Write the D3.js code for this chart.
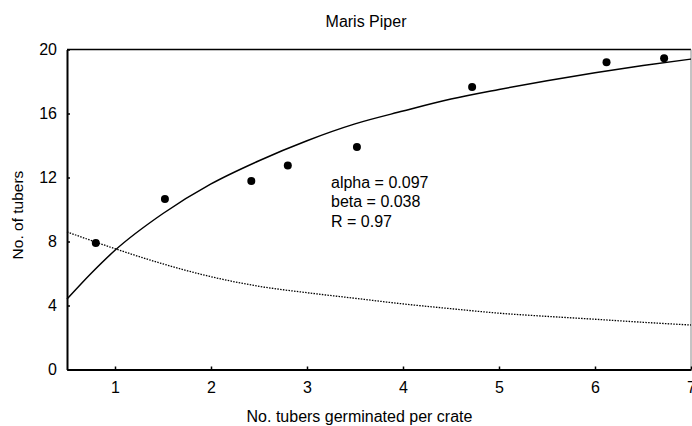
<!DOCTYPE html>
<html>
<head>
<meta charset="utf-8">
<script src="https://cdn.jsdelivr.net/npm/d3@7"></script>
<style>
  body { margin: 0; background: #fff; }
  text { font-family: "Liberation Sans", Arial, sans-serif; fill: #000; }
</style>
</head>
<body>
<div id="graph"></div>
<script>
// observed points
var germX = [0.8, 1.52, 2.42, 2.8, 3.52, 4.72, 6.12, 6.72];
var tubersY = [7.9, 10.65, 11.78, 12.75, 13.9, 17.65, 19.2, 19.45];

// fitted curve (solid)
var fitX = [0.5, 0.75, 1.0, 1.5, 2.0, 2.5, 3.0, 3.5, 4.0, 4.5, 5.0, 5.5, 6.0, 6.5, 7.0];
var fitY = [4.4, 6.0, 7.45, 9.75, 11.6, 13.05, 14.3, 15.35, 16.15, 16.9, 17.5, 18.05, 18.55, 19.0, 19.4];

// dotted curve
var dotX = [0.5, 1.0, 1.5, 2.0, 2.5, 3.0, 3.5, 4.0, 4.5, 5.0, 5.5, 6.0, 6.5, 7.0];
var dotY = [8.6, 7.55, 6.6, 5.8, 5.2, 4.8, 4.45, 4.1, 3.8, 3.52, 3.32, 3.14, 2.95, 2.78];

var xTicks = [1, 2, 3, 4, 5, 6, 7];
var yTicks = [0, 4, 8, 12, 16, 20];
var notes = ["alpha = 0.097", "beta = 0.038", "R = 0.97"];

var w = 692, h = 426;
var padL = 67, padR = 691, padT = 49.5, padB = 369.5;

var xScale = d3.scaleLinear().domain([0.5, 7]).range([padL, padR]);
var yScale = d3.scaleLinear().domain([0, 20]).range([padB, padT]);

var svg = d3.select("#graph")
	.append("svg")
	.attr("width", w)
	.attr("height", h);

// frame top + right
svg.append("line")
	.attr("x1", padL).attr("x2", padR)
	.attr("y1", padT).attr("y2", padT)
	.attr("stroke", "#000").attr("stroke-width", 1.5);
svg.append("line")
	.attr("x1", padR).attr("x2", padR)
	.attr("y1", padT).attr("y2", padB)
	.attr("stroke", "#888").attr("stroke-width", 1);

// axes
var xAxis = svg.append("g")
	.attr("transform", "translate(0," + padB + ")")
	.call(d3.axisBottom(xScale).tickValues(xTicks).tickFormat(d3.format("d"))
		.tickSizeInner(-3).tickSizeOuter(0).tickPadding(8));
var yAxis = svg.append("g")
	.attr("transform", "translate(" + padL + ",0)")
	.call(d3.axisLeft(yScale).tickValues(yTicks).tickFormat(d3.format("d"))
		.tickSizeInner(-3).tickSizeOuter(0).tickPadding(10));

[xAxis, yAxis].forEach(function (ax) {
	ax.select(".domain").attr("stroke", "#000").attr("stroke-width", 2);
	ax.selectAll(".tick line").attr("stroke", "#000").attr("stroke-width", 1.5);
	ax.selectAll(".tick text")
		.style("font-family", "'Liberation Sans', Arial, sans-serif")
		.style("font-size", "16px")
		.attr("fill", "#000");
});
xAxis.selectAll(".tick text").attr("dy", "0.95em");

// curves
var line = d3.line()
	.x(function (d) { return xScale(d[0]); })
	.y(function (d) { return yScale(d[1]); })
	.curve(d3.curveMonotoneX);

svg.append("path")
	.datum(d3.zip(dotX, dotY))
	.attr("d", line)
	.attr("fill", "none")
	.attr("stroke", "#000")
	.attr("stroke-width", 1.3)
	.attr("stroke-dasharray", "1.5,1.3");

svg.append("path")
	.datum(d3.zip(fitX, fitY))
	.attr("d", line)
	.attr("fill", "none")
	.attr("stroke", "#000")
	.attr("stroke-width", 1.5);

// points
svg.append("g")
	.selectAll("circle")
	.data(d3.zip(germX, tubersY))
	.enter()
	.append("circle")
	.attr("cx", function (d) { return xScale(d[0]); })
	.attr("cy", function (d) { return yScale(d[1]); })
	.attr("r", 4)
	.attr("fill", "#000");

// annotation
svg.append("g")
	.selectAll("text")
	.data(notes)
	.enter()
	.append("text")
	.attr("x", 331)
	.attr("y", function (d, i) { return 187.5 + i * 19.5; })
	.style("font-size", "16px")
	.text(function (d) { return d; });

// titles
svg.append("text")
	.attr("x", 366)
	.attr("y", 26.5)
	.attr("text-anchor", "middle")
	.style("font-size", "16px")
	.text("Maris Piper");

svg.append("text")
	.attr("x", 359.5)
	.attr("y", 421.5)
	.attr("text-anchor", "middle")
	.style("font-size", "16px")
	.text("No. tubers germinated per crate");

svg.append("text")
	.attr("transform", "translate(23.3,215) rotate(-90)")
	.attr("text-anchor", "middle")
	.style("font-size", "15.5px")
	.text("No. of tubers");
</script>
</body>
</html>
